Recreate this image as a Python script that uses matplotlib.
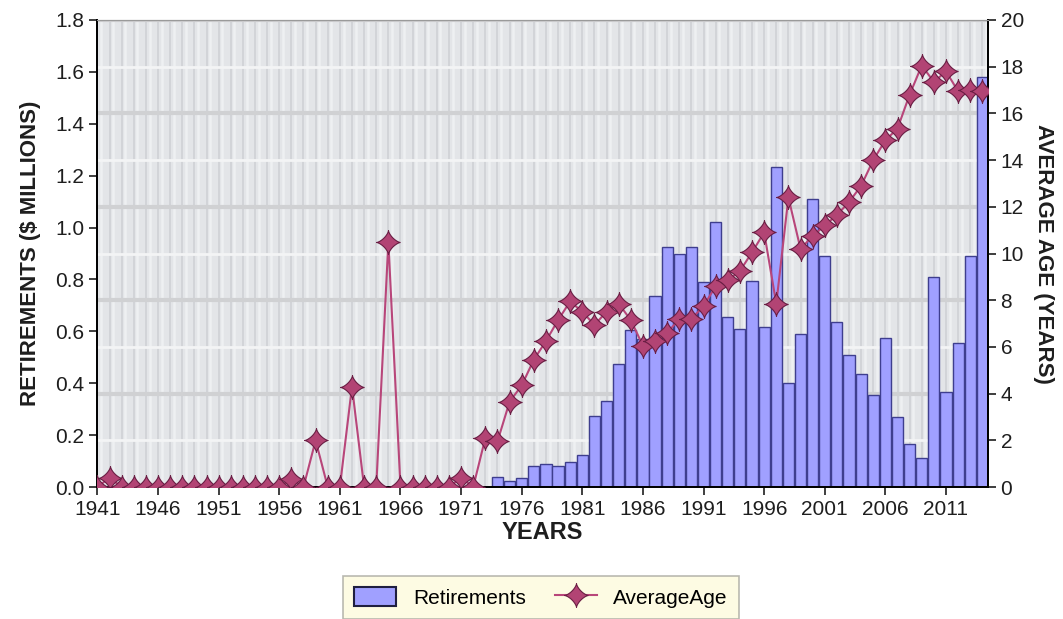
import numpy as np
import matplotlib
matplotlib.use("Agg")
import matplotlib.pyplot as plt
from matplotlib.patches import Patch
from matplotlib.lines import Line2D

plt.rcParams["font.family"] = ["Liberation Sans", "DejaVu Sans"]

# ---- data ----
age_years = list(range(1941, 2015))
average_age = [
    0, 0.4, 0, 0, 0, 0, 0, 0, 0, 0, 0, 0, 0, 0, 0, 0,       # 1941-1956
    0.35, 0, 2.0, 0, 0, 4.3, 0, 0, 10.5,                    # 1957-1965
    0, 0, 0, 0, 0, 0.4, 0,                                   # 1966-1972
    2.1, 1.95, 3.65, 4.35, 5.45, 6.25, 7.15, 7.95, 7.5, 6.95,  # 1973-1982
    7.5, 7.85, 7.15, 6.05, 6.25, 6.6, 7.2, 7.2, 7.75, 8.6,     # 1983-1992
    8.85, 9.25, 10.05, 10.9, 7.85, 12.4, 10.2, 10.75, 11.2, 11.65,  # 1993-2002
    12.2, 12.9, 14.0, 14.85, 15.35, 16.8, 18.05, 17.35, 17.8, 16.95,  # 2003-2012
    17.0, 16.95,                                             # 2013-2014
]

bar_years = list(range(1974, 2015))
retirements = [
    0.04, 0.025, 0.035, 0.08, 0.09, 0.08, 0.095, 0.125, 0.275, 0.33, 0.475, 0.605,  # 1974-1985
    0.57, 0.735, 0.925, 0.9, 0.925, 0.79, 1.02, 0.655, 0.61, 0.795,                   # 1986-1995
    0.615, 1.235, 0.40, 0.59, 1.11, 0.89, 0.635, 0.51, 0.435, 0.355,                  # 1996-2005
    0.575, 0.27, 0.165, 0.11, 0.81, 0.365, 0.555, 0.89, 1.58,                         # 2006-2014
]

x_ticks = list(range(1941, 2015, 5))
left_ticks = [0.0, 0.2, 0.4, 0.6, 0.8, 1.0, 1.2, 1.4, 1.6, 1.8]
right_ticks = list(range(0, 21, 2))

# 4-pointed star with curved (pinched) sides
t = np.linspace(0, 2 * np.pi, 121)
c, s = np.cos(t), np.sin(t)
star = np.column_stack([np.sign(c) * np.abs(c) ** 2.8, np.sign(s) * np.abs(s) ** 2.8])

BAR_FACE = "#a0a0ff"
BAR_EDGE = "#3e3e8e"
LINE_COL = "#b8467a"
MARK_FACE = "#b24474"
MARK_EDGE = "#6a1e44"

fig = plt.figure(figsize=(10.63, 6.19), dpi=100)
ax = fig.add_axes([0.0913, 0.2132, 0.8382, 0.7545])
ax.set_facecolor("#e3e5e8")

ymax_l, ymax_r = 1.8, 20.0
ax.set_ylim(0, ymax_l)
ax.set_xlim(1940.97, 2014.47)

# background texture: vertical stripes per year, horizontal bands on the age grid
for yr in age_years:
    ax.axvline(yr, color="#d2d4d8", lw=1.4, zorder=0)
    ax.axvline(yr + 0.3, color="#eef0f2", lw=1.8, zorder=0)
for i, a in enumerate(right_ticks[1:]):
    col = "#d0d1d3" if i % 2 == 1 else "#f3f4f5"
    ax.axhline(a * ymax_l / ymax_r, color=col, lw=3 if i % 2 == 1 else 2, zorder=0.5)

ax.bar(bar_years, retirements, width=0.92, color=BAR_FACE, edgecolor=BAR_EDGE,
       linewidth=1.0, zorder=2)

ax.set_xticks(x_ticks)
ax.set_xticklabels([str(v) for v in x_ticks])
ax.set_yticks(left_ticks)
ax.set_yticklabels([f"{v:.1f}" for v in left_ticks])
ax.tick_params(axis="both", direction="out", length=6, width=1.2, labelsize=15,
               colors="#1e1e1e", pad=3)
ax.set_xlabel("YEARS", fontsize=17, fontweight="bold", color="#1e1e1e", labelpad=2)
ax.set_ylabel("RETIREMENTS ($ MILLIONS)", fontsize=16, fontweight="bold",
              color="#1e1e1e", labelpad=10)

ax2 = ax.twinx()
ax2.set_ylim(0, ymax_r)
ax2.plot(age_years, average_age, color=LINE_COL, lw=1.5, marker=star, markersize=17,
         markerfacecolor=MARK_FACE, markeredgecolor=MARK_EDGE, markeredgewidth=0.8,
         zorder=3)
ax2.set_yticks(right_ticks)
ax2.tick_params(axis="y", direction="out", length=6, width=1.2, labelsize=15,
                colors="#1e1e1e", pad=3)
ax2.set_ylabel("AVERAGE AGE (YEARS)", fontsize=16, fontweight="bold", color="#1e1e1e",
               rotation=270, labelpad=22)

for a in (ax, ax2):
    a.spines["top"].set_color("#9a9a9a")
    a.spines["left"].set_linewidth(1.3)
    a.spines["bottom"].set_linewidth(1.3)
    a.spines["right"].set_linewidth(1.3)

handles = [
    Patch(facecolor=BAR_FACE, edgecolor="#1e1e40", linewidth=1.5),
    Line2D([0], [0], color=LINE_COL, lw=1.5, marker=star, markersize=17,
           markerfacecolor=MARK_FACE, markeredgecolor=MARK_EDGE, markeredgewidth=0.8),
]
leg = fig.legend(handles, ["Retirements", "AverageAge"], loc="center",
                 bbox_to_anchor=(0.509, 0.035), ncol=2, fontsize=15, frameon=True,
                 fancybox=False, handlelength=2.0, handleheight=1.0, columnspacing=1.4,
                 borderpad=0.55)
leg.get_frame().set_facecolor("#fdfbdd")
leg.get_frame().set_edgecolor("#a8a8a0")
leg.get_frame().set_linewidth(1.2)

fig.savefig("out.png", dpi=100)
